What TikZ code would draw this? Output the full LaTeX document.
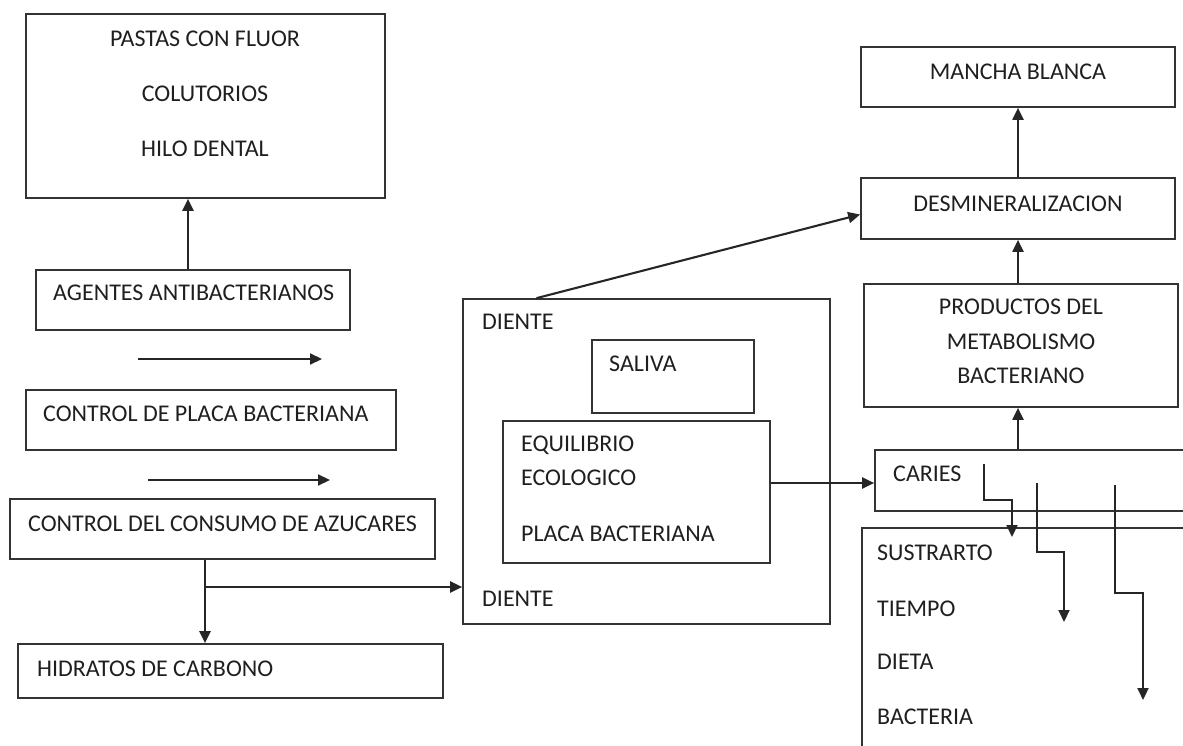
\documentclass[tikz,border=0pt]{standalone}
\usepackage{fontspec}
\setmainfont{Carlito}
\usetikzlibrary{arrows.meta}

\begin{document}
\begin{tikzpicture}[x=1pt,y=-1pt,
    box/.style={draw=black!80, line width=1.7pt, inner sep=0pt},
    lbl/.style={font=\fontsize{24}{28}\selectfont, text=black!88, inner sep=0pt,
                text height=15.5pt, text depth=0pt},
    arr/.style={draw=black!85, line width=2.1pt, -{Triangle[length=12pt,width=11pt]}}]
    \path[use as bounding box, clip] (0,0) rectangle (1183,746);
    % left column
    \node[box, minimum width=359pt, minimum height=184pt] (pastas) at (205.5,106) {};
    \node[lbl] (pastas1) at (205,39) {PASTAS CON FLUOR};
    \node[lbl] (pastas2) at (205,94) {COLUTORIOS};
    \node[lbl] (pastas3) at (205,149) {HILO DENTAL};
    \node[box, minimum width=314pt, minimum height=60pt] (agentes) at (193,300) {};
    \node[lbl, anchor=west] (agentestxt) at (53,292.5) {AGENTES ANTIBACTERIANOS};
    \node[box, minimum width=370pt, minimum height=60pt] (placa) at (211,420) {};
    \node[lbl, anchor=west] (placatxt) at (43,414) {CONTROL DE PLACA BACTERIANA};
    \node[box, minimum width=425pt, minimum height=60pt] (consumo) at (222.5,529) {};
    \node[lbl, anchor=west] (consumotxt) at (28,524) {CONTROL DEL CONSUMO DE AZUCARES};
    \node[box, minimum width=425pt, minimum height=54pt] (hidratos) at (230.5,671) {};
    \node[lbl, anchor=west] (hidratostxt) at (37,669) {HIDRATOS DE CARBONO};
    % middle
    \node[box, minimum width=367pt, minimum height=325pt] (diente) at (646.5,461.5) {};
    \node[lbl, anchor=west] (diente1) at (482,322) {DIENTE};
    \node[lbl, anchor=west] (diente2) at (482,599) {DIENTE};
    \node[box, minimum width=162pt, minimum height=73pt] (saliva) at (673,376.5) {};
    \node[lbl, anchor=west] (salivatxt) at (609,364) {SALIVA};
    \node[box, minimum width=267pt, minimum height=142pt] (equil) at (636.5,492) {};
    \node[lbl, anchor=west] (equil1) at (521,444) {EQUILIBRIO};
    \node[lbl, anchor=west] (equil2) at (521,478) {ECOLOGICO};
    \node[lbl, anchor=west] (equil3) at (521,534) {PLACA BACTERIANA};
    % right column
    \node[box, minimum width=314pt, minimum height=60pt] (mancha) at (1018,77) {};
    \node[lbl] (manchatxt) at (1018,72) {MANCHA BLANCA};
    \node[box, minimum width=314pt, minimum height=61pt] (desmin) at (1018,208.5) {};
    \node[lbl] (desmintxt) at (1018,204) {DESMINERALIZACION};
    \node[box, minimum width=314pt, minimum height=123pt] (productos) at (1021,345.5) {};
    \node[lbl] (productos1) at (1021,307) {PRODUCTOS DEL};
    \node[lbl] (productos2) at (1021,342) {METABOLISMO};
    \node[lbl] (productos3) at (1021,376) {BACTERIANO};
    \node[box, minimum width=425pt, minimum height=61pt] (caries) at (1087.5,480.5) {};
    \node[lbl, anchor=west] (cariestxt) at (893,474) {CARIES};
    \node[box, minimum width=438pt, minimum height=272pt] (sustrato) at (1081,664) {};
    \node[lbl, anchor=west] (sustrato1) at (877,553) {SUSTRARTO};
    \node[lbl, anchor=west] (sustrato2) at (877,609) {TIEMPO};
    \node[lbl, anchor=west] (sustrato3) at (877,662) {DIETA};
    \node[lbl, anchor=west] (sustrato4) at (877,717) {BACTERIA};
    % free arrow ends
    \coordinate (f1a) at (138,359);
    \coordinate (f1b) at (322,359);
    \coordinate (f2a) at (148,480);
    \coordinate (f2b) at (330,480);
    \coordinate (branch) at (205,587);
    \coordinate (s1a) at (984,464);
    \coordinate (s1b) at (1012,537);
    \coordinate (s2a) at (1037,483);
    \coordinate (s2b) at (1064,622);
    \coordinate (s3a) at (1115,485);
    \coordinate (s3b) at (1143,700);
    % connectors
    \draw[arr] ([xshift=-5pt]agentes.north) -- ([xshift=-5pt]agentes.north |- pastas.south);
    \draw[arr] (f1a) -- (f1b);
    \draw[arr] (f2a) -- (f2b);
    \draw[arr] (consumo.south -| branch) -- (hidratos.north -| branch);
    \draw[arr] (branch) -- (branch -| diente.west);
    \draw[arr] ([xshift=-110pt]diente.north) -- ([yshift=-6pt]desmin.west);
    \draw[arr] (equil.east |- 0,483) -- (caries.west |- 0,483);
    \draw[arr] (desmin.north) -- (mancha.south);
    \draw[arr] (productos.north -| desmin.north) -- (desmin.south);
    \draw[arr] (caries.north -| desmin.north) -- (productos.south -| desmin.north);
    \draw[arr] (s1a) |- (s1a |- 0,500) -| (s1b);
    \draw[arr] (s2a) |- (s2a |- 0,552) -| (s2b);
    \draw[arr] (s3a) |- (s3a |- 0,593) -| (s3b);
\end{tikzpicture}
\end{document}
